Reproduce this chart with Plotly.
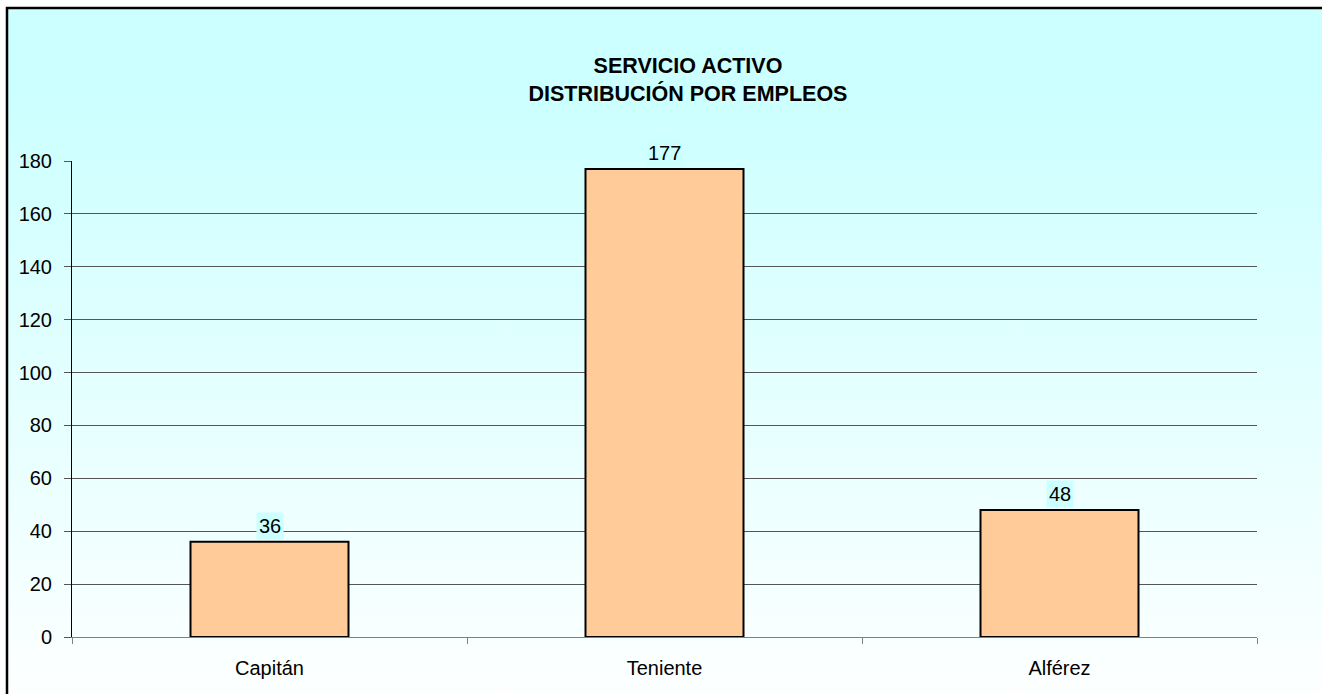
import base64
import plotly.graph_objects as go

categories = ["Capitán", "Teniente", "Alférez"]
values = [36, 177, 48]
title_lines = ["SERVICIO ACTIVO", "DISTRIBUCIÓN POR EMPLEOS"]
y_ticks = [0, 20, 40, 60, 80, 100, 120, 140, 160, 180]

W, H = 1322, 694
L, R, T, B = 72, 65, 161, 57
PW, PH = W - L - R, H - T - B

svg = (
    '<svg xmlns="http://www.w3.org/2000/svg" width="100" height="100" preserveAspectRatio="none">'
    '<defs><linearGradient id="g" x1="0" y1="0" x2="0" y2="1">'
    '<stop offset="0" stop-color="#CCFFFF"/>'
    '<stop offset="0.12" stop-color="#CCFFFF"/>'
    '<stop offset="1" stop-color="#FFFFFF"/>'
    '</linearGradient></defs>'
    '<rect width="100" height="100" fill="url(#g)"/></svg>'
)
src = "data:image/svg+xml;base64," + base64.b64encode(svg.encode()).decode()

fig = go.Figure()
fig.add_trace(go.Bar(
    x=categories, y=values,
    marker=dict(color="#FFCC99", line=dict(color="#000000", width=2)),
    hoverinfo="skip",
))

for c, v in zip(categories, values):
    fig.add_annotation(
        x=c, y=v, text=str(v), showarrow=False,
        yanchor="bottom", yshift=2,
        font=dict(family="Liberation Sans, Arial", size=20, color="#000000"),
        bgcolor="#CCFFFF", borderpad=2,
    )

def px_x(px):
    return (px - L) / PW

def px_y(py):
    return 1 - (py - T) / PH

fig.add_layout_image(dict(
    source=src, xref="paper", yref="paper",
    x=px_x(7), y=px_y(8), sizex=(W + 20 - 7) / PW, sizey=(H + 20 - 8) / PH,
    xanchor="left", yanchor="top", sizing="stretch", layer="below",
))

fig.add_shape(type="rect", xref="paper", yref="paper",
              x0=px_x(7), x1=px_x(W + 20), y0=px_y(H + 20), y1=px_y(8),
              line=dict(color="#000000", width=2.5), fillcolor="rgba(0,0,0,0)",
              layer="above")

fig.update_layout(
    width=W, height=H,
    margin=dict(l=L, r=R, t=T, b=B),
    paper_bgcolor="#FFFFFF",
    plot_bgcolor="rgba(0,0,0,0)",
    bargap=0.6,
    showlegend=False,
    font=dict(family="Liberation Sans, Arial", size=20, color="#000000"),
    title=dict(
        text="<b>" + "<br>".join(title_lines) + "</b>",
        x=px_x(688), xref="paper", xanchor="center",
        y=1 - 73 / H, yref="container", yanchor="middle",
        font=dict(family="Liberation Sans, Arial", size=21.5, color="#000000"),
    ),
    xaxis=dict(
        showgrid=False, showline=True, linecolor="#808080", linewidth=1,
        ticks="outside", tickson="boundaries", ticklen=6, tickcolor="#808080",
        tickfont=dict(size=20), ticklabelstandoff=13,
    ),
    yaxis=dict(
        range=[0, 180], tickvals=y_ticks,
        showgrid=True, gridcolor="#555555", gridwidth=1,
        showline=True, linecolor="#000000", linewidth=1,
        ticks="outside", ticklen=7, tickcolor="#555555",
        tickfont=dict(size=20), ticklabelstandoff=8,
        zeroline=False,
    ),
)

fig.write_html("out.html", config={"displayModeBar": False},
               post_script="document.body.style.margin='0';document.body.style.overflow='hidden';")
